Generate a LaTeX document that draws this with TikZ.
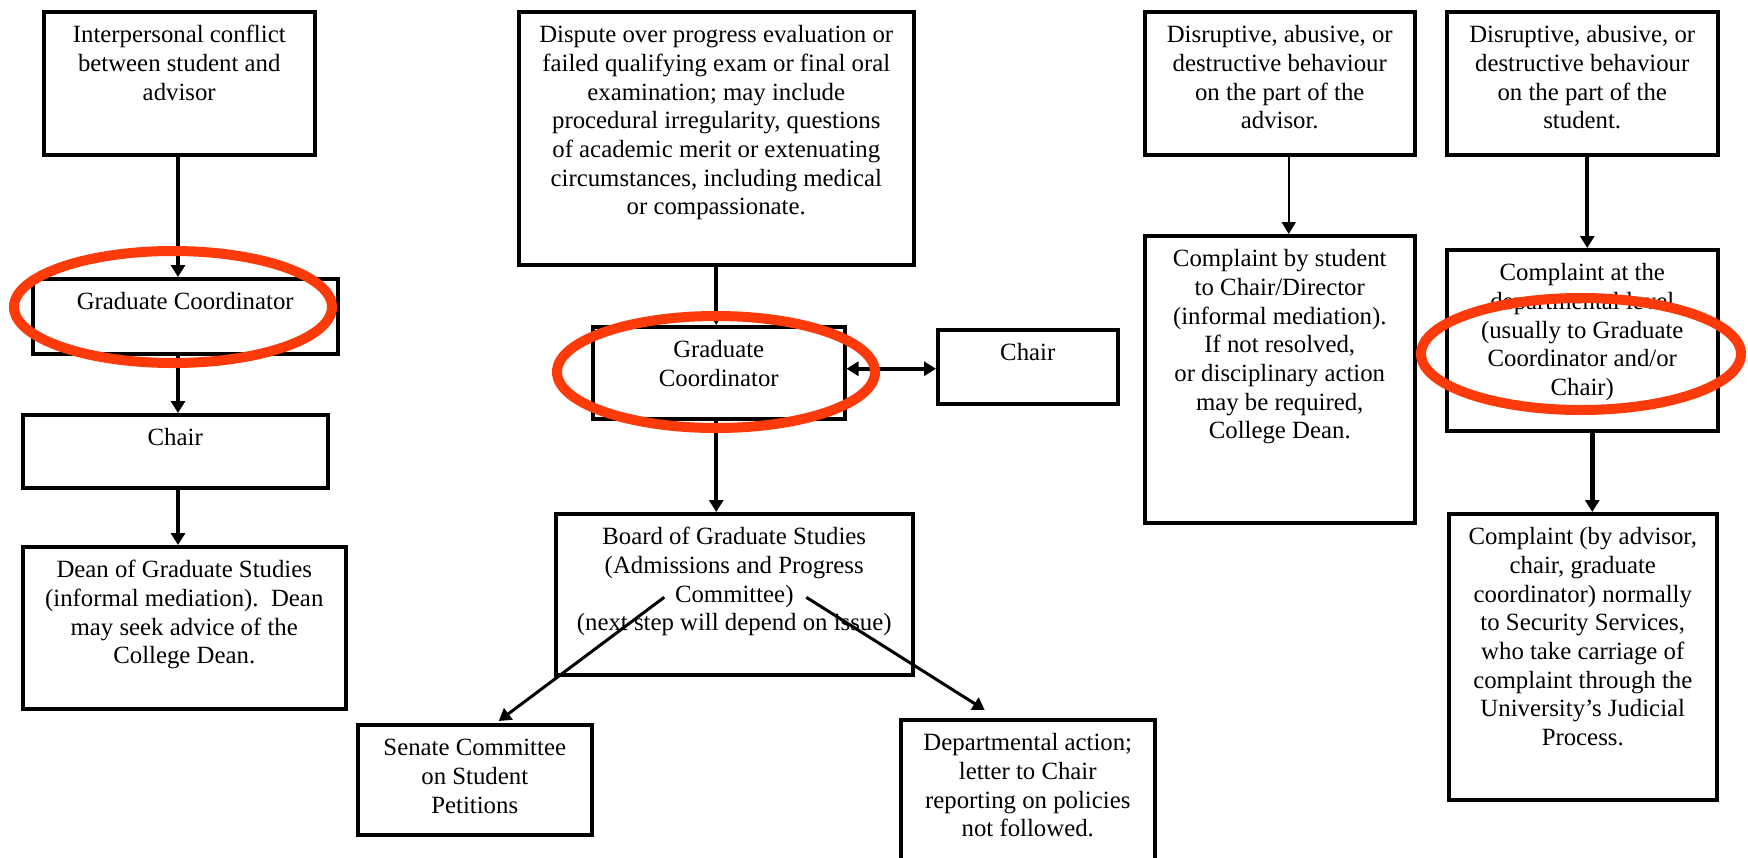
\documentclass[tikz,border=0pt]{standalone}
\usepackage{fontspec}
\setmainfont{Liberation Serif}
\usepackage{tikz}
\usetikzlibrary{arrows.meta, calc}

\definecolor{ringred}{RGB}{252,58,10}

% text sits at the top of a box of fixed size
\newcommand{\boxtext}[3]{\parbox[c][#2][t]{#1}{\centering\rule{0pt}{31pt}#3}}

\begin{document}
\begin{tikzpicture}[x=1pt, y=-1pt,
		>={Triangle[width=14pt, length=12pt]},
		box/.style={draw, line width=3.5pt, inner sep=0pt, anchor=north west,
			font=\fontsize{24.8}{28.7}\selectfont},
		link/.style={->, line width=4pt},
		ring/.style={draw=ringred, line width=10pt}]

			\useasboundingbox (0,0) rectangle (1748,857);

			% interpersonal conflict
			\node[box] (intc) at (42,10) {\boxtext{271pt}{143pt}{Interpersonal conflict\\between student and\\advisor}};
			\node[box] (gc1) at (31,277) {\boxtext{305pt}{75pt}{Graduate Coordinator}};
			\node[box] (chair1) at (21,413) {\boxtext{305pt}{73pt}{Chair}};
			\node[box] (dean) at (21,545) {\boxtext{323pt}{162pt}{Dean of Graduate Studies\\(informal mediation).\ \ Dean\\may seek advice of the\\College Dean.}};

			% disputes
			\node[box] (dispute) at (517,10) {\boxtext{395pt}{253pt}{Dispute over progress evaluation or\\failed qualifying exam or final oral\\examination; may include\\procedural irregularity, questions\\of academic merit or extenuating\\circumstances, including medical\\or compassionate.}};
			\node[box] (gc2) at (591,325) {\boxtext{252pt}{92pt}{Graduate\\Coordinator}};
			\node[box] (chair2) at (936,328) {\boxtext{180pt}{74pt}{Chair}};
			\node[box] (board) at (554,512) {\boxtext{357pt}{161pt}{Board of Graduate Studies\\(Admissions and Progress\\Committee)\\(next step will depend on issue)}};
			\node[box] (senate) at (356,723) {\boxtext{234pt}{110pt}{Senate Committee\\on Student\\Petitions}};
			\node[box] (dept) at (899,718) {\boxtext{254pt}{170pt}{Departmental action;\\letter to Chair\\reporting on policies\\not followed.}};

			% behaviour
			\node[box] (advbeh) at (1143,10) {\boxtext{270pt}{143pt}{Disruptive, abusive, or\\destructive behaviour\\on the part of the\\advisor.}};
			\node[box] (stucomp) at (1143,234) {\boxtext{270pt}{287pt}{Complaint by student\\to Chair/Director\\(informal mediation).\\If not resolved,\\or disciplinary action\\may be required,\\College Dean.}};
			\node[box] (stubeh) at (1445,10) {\boxtext{271pt}{143pt}{Disruptive, abusive, or\\destructive behaviour\\on the part of the\\student.}};
			\node[box] (deptcomp) at (1445,248) {\boxtext{271pt}{181pt}{Complaint at the\\departmental level\\(usually to Graduate\\Coordinator and/or\\Chair)}};
			\node[box] (security) at (1447,512) {\boxtext{268pt}{286pt}{Complaint (by advisor,\\chair, graduate\\coordinator) normally\\to Security Services,\\who take carriage of\\complaint through the\\University’s Judicial\\Process.}};

			\coordinate (lspine) at (178,0);
			\coordinate (advdrop) at ([xshift=9pt]advbeh.south);
			\coordinate (studrop) at ([xshift=5pt]stubeh.south);
			\coordinate (deptdrop) at ([xshift=10pt]deptcomp.south);

			\begin{scope}
				\draw[link] (lspine |- intc.south) -- (lspine |- gc1.north);
				\draw[link] (lspine |- gc1.south) -- (lspine |- chair1.north);
				\draw[link] (lspine |- chair1.south) -- (lspine |- dean.north);

				\draw[link] (dispute.south) -- (dispute.south |- gc2.north);
				\draw[link] (dispute.south |- gc2.south) -- (dispute.south |- board.north);
				\draw[link, <->, line width=3.5pt] ([yshift=4pt]gc2.east) -- ([yshift=4pt]gc2.east -| chair2.west);
				\draw[link, line width=3pt] ([shift={(-70pt,-3pt)}]board.center) -- ([shift={(24pt,2pt)}]senate.north);
				\draw[link, line width=3pt] ([shift={(72pt,-3pt)}]board.center) -- ([shift={(-43pt,8pt)}]dept.north);

				\draw[link, line width=2pt] (advdrop) -- (advdrop |- stucomp.north);
				\draw[link] (studrop) -- (studrop |- deptcomp.north);
				\draw[link, line width=5pt] (deptdrop) -- (deptdrop |- security.north);
			\end{scope}

			\begin{scope}
				\draw[ring] (173,307) ellipse [x radius=159pt, y radius=56pt];
				\draw[ring] (716,372) ellipse [x radius=159pt, y radius=56pt];
				\draw[ring] (1581,354) ellipse [x radius=160pt, y radius=56pt];
			\end{scope}
		\end{tikzpicture}
\end{document}
